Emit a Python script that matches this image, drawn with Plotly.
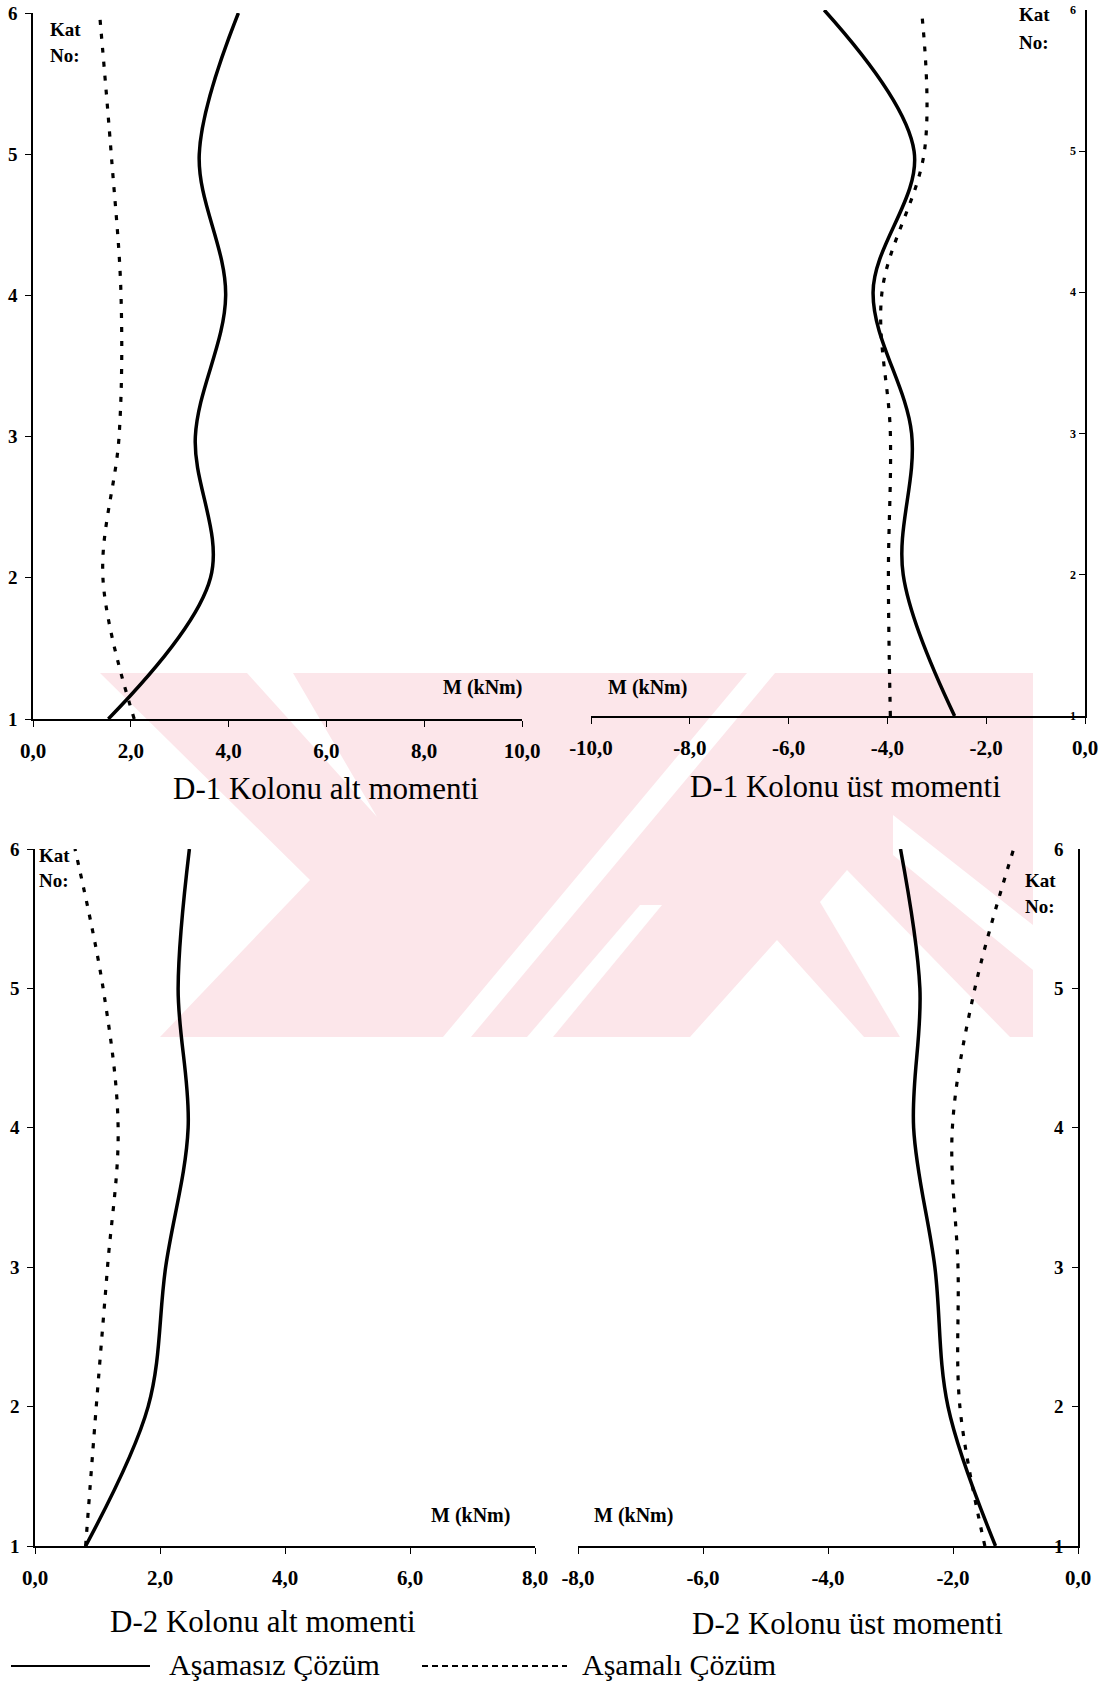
import plotly.graph_objects as go

# ---------------- data ----------------
kat = [1, 2, 3, 4, 5, 6]
kat_text = ["1", "2", "3", "4", "5", "6"]
x_ticks_10 = [0, 2, 4, 6, 8, 10]
x_text_10 = ["0,0", "2,0", "4,0", "6,0", "8,0", "10,0"]
x_ticks_neg10 = [-10, -8, -6, -4, -2, 0]
x_text_neg10 = ["-10,0", "-8,0", "-6,0", "-4,0", "-2,0", "0,0"]
x_ticks_8 = [0, 2, 4, 6, 8]
x_text_8 = ["0,0", "2,0", "4,0", "6,0", "8,0"]
x_ticks_neg8 = [-8, -6, -4, -2, 0]
x_text_neg8 = ["-8,0", "-6,0", "-4,0", "-2,0", "0,0"]

d1_alt_asamasiz = [1.54, 3.63, 3.32, 3.94, 3.40, 4.20]
d1_alt_asamali = [2.07, 1.43, 1.76, 1.80, 1.60, 1.36]
d1_ust_asamasiz = [-2.64, -3.68, -3.51, -4.29, -3.46, -5.28]
d1_ust_asamali = [-3.94, -3.98, -3.94, -4.11, -3.25, -3.31]
d2_alt_asamasiz = [0.81, 1.81, 2.09, 2.45, 2.29, 2.47]
d2_alt_asamali = [0.81, 0.98, 1.16, 1.33, 1.09, 0.64]
d2_ust_asamasiz = [-1.32, -2.08, -2.29, -2.63, -2.53, -2.84]
d2_ust_asamali = [-1.49, -1.89, -1.92, -2.01, -1.65, -1.03]

titles = ["D-1 Kolonu alt momenti", "D-1 Kolonu üst momenti",
          "D-2 Kolonu alt momenti", "D-2 Kolonu üst momenti"]
axis_label = "M (kNm)"
kat_label = ["Kat", "No:"]
legend_names = ["Aşamasız Çözüm", "Aşamalı Çözüm"]

# ---------------- layout helpers ----------------
W, H = 1102, 1685
SERIF = "Liberation Serif, Times New Roman, serif"


def px(x):
    return x / W


def py(y):
    return 1 - y / H


def dom_x(a, b):
    return [a / W, b / W]


def dom_y(top, bottom):
    return [1 - bottom / H, 1 - top / H]


fig = go.Figure()

SOLID = dict(color="black", width=3.5, shape="spline", smoothing=1.0)
DOT = dict(color="black", width=3.2, dash="5px,9px", shape="spline", smoothing=1.0)

panels = [
    (d1_alt_asamasiz, d1_alt_asamali, "x", "y"),
    (d1_ust_asamasiz, d1_ust_asamali, "x2", "y2"),
    (d2_alt_asamasiz, d2_alt_asamali, "x3", "y3"),
    (d2_ust_asamasiz, d2_ust_asamali, "x4", "y4"),
]
for s, d, xa, ya in panels:
    fig.add_trace(go.Scatter(x=s, y=kat, mode="lines", line=SOLID, xaxis=xa, yaxis=ya,
                             name=legend_names[0], showlegend=False, cliponaxis=False,
                             hoverinfo="skip"))
    fig.add_trace(go.Scatter(x=d, y=kat, mode="lines", line=DOT, xaxis=xa, yaxis=ya,
                             name=legend_names[1], showlegend=False, cliponaxis=False,
                             hoverinfo="skip"))

tickfont_x = dict(family=SERIF, size=21, color="black", weight="bold")


def xaxis(domain, rng, vals, text, anchor):
    return dict(domain=domain, range=rng, tickvals=vals, ticktext=text,
                showline=True, linecolor="black", linewidth=1.5, mirror=False,
                ticks="outside", ticklen=6, tickcolor="black", tickwidth=1.2,
                showgrid=False, zeroline=False, tickfont=tickfont_x,
                ticklabelstandoff=6, anchor=anchor, fixedrange=True,
                automargin=False, ticklabeloverflow="allow")


def yaxis(domain, anchor, side, show_labels=True):
    return dict(domain=domain, range=[1, 6], tickvals=kat, ticktext=kat_text,
                showline=True, linecolor="black", linewidth=1.5,
                ticks="outside" if side == "left" else "inside",
                ticklen=6, tickcolor="black", tickwidth=1.2,
                showgrid=False, zeroline=False, showticklabels=show_labels,
                tickfont=dict(family=SERIF, size=19, color="black", weight="bold"),
                ticklabelstandoff=4, anchor=anchor, side=side, fixedrange=True,
                automargin=False)


fig.update_layout(
    template="none",
    width=W, height=H,
    margin=dict(l=0, r=0, t=0, b=0, pad=0),
    paper_bgcolor="white", plot_bgcolor="rgba(0,0,0,0)",
    showlegend=False,
    xaxis=xaxis(dom_x(33, 522), [0, 10], x_ticks_10, x_text_10, "y"),
    yaxis=yaxis(dom_y(13, 719), "x", "left"),
    xaxis2=xaxis(dom_x(591, 1085), [-10, 0], x_ticks_neg10, x_text_neg10, "y2"),
    yaxis2=yaxis(dom_y(10, 716), "x2", "right", show_labels=False),
    xaxis3=xaxis(dom_x(35, 535), [0, 8], x_ticks_8, x_text_8, "y3"),
    yaxis3=yaxis(dom_y(849, 1546), "x3", "left"),
    xaxis4=xaxis(dom_x(578, 1078), [-8, 0], x_ticks_neg8, x_text_neg8, "y4"),
    yaxis4=yaxis(dom_y(849, 1546), "x4", "right", show_labels=False),
)

annotations = []


def ann(text, x, y, size, bold=False, xanchor="center", xref="paper", yref="paper"):
    annotations.append(dict(
        text=f"<b>{text}</b>" if bold else text,
        x=px(x) if xref == "paper" else x,
        y=py(y) if yref == "paper" else y,
        xref=xref, yref=yref,
        xanchor=xanchor, yanchor="middle", showarrow=False,
        font=dict(family=SERIF, size=size, color="black")))


# inside tick labels of the right-hand (üst momenti) axes
for v, t in zip(kat, kat_text):
    ann(t, 1078, v, 12, bold=True, xanchor="right", yref="y2")
    ann(t, 1066, v, 19, bold=True, xanchor="right", yref="y4")

# panel titles
ann(titles[0], 326, 788, 31)
ann(titles[1], 845, 786, 31)
ann(titles[2], 263, 1621, 31)
ann(titles[3], 847, 1623, 31)

# axis labels
ann(axis_label, 482, 687, 20, bold=True)
ann(axis_label, 647, 687, 20, bold=True)
ann(axis_label, 470, 1515, 20, bold=True)
ann(axis_label, 633, 1515, 20, bold=True)

# Kat No labels
ann(kat_label[0], 48, 30, 19, bold=True, xanchor="left")
ann(kat_label[1], 48, 56, 19, bold=True, xanchor="left")
ann(kat_label[0], 1034, 14, 19, bold=True)
ann(kat_label[1], 1034, 42, 19, bold=True)
ann(kat_label[0], 37, 855, 19, bold=True, xanchor="left")
ann(kat_label[1], 37, 880, 19, bold=True, xanchor="left")
ann(kat_label[0], 1040, 880, 19, bold=True)
ann(kat_label[1], 1040, 906, 19, bold=True)

# legend texts
ann(legend_names[0], 167, 1664, 30, xanchor="left")
ann(legend_names[1], 580, 1664, 30, xanchor="left")

fig.update_layout(annotations=annotations)

# ---------------- background watermark (pale pink stripes) ----------------
PINK = "#fce6ea"


def poly(points, color):
    path = "M " + " L ".join(f"{px(x):.5f},{py(y):.5f}" for x, y in points) + " Z"
    return dict(type="path", path=path, xref="paper", yref="paper",
                fillcolor=color, line=dict(width=0), layer="below")


shapes = [
    poly([(100, 673), (1033, 673), (1033, 1037), (100, 1037)], PINK),
    # white cut-outs
    poly([(100, 673), (310, 880), (160, 1037), (100, 1037)], "white"),
    poly([(247, 673), (293, 673), (377, 817)], "white"),
    poly([(747, 673), (775, 673), (471, 1037), (443, 1037)], "white"),
    poly([(640, 905), (662, 905), (553, 1037), (527, 1037)], "white"),
    poly([(777, 940), (864, 1037), (690, 1037)], "white"),
    poly([(847, 870), (1010, 1037), (900, 1037), (820, 902)], "white"),
    poly([(893, 815), (1033, 925), (1033, 970), (893, 855)], "white"),
]

shapes += [
    dict(type="line", xref="paper", yref="paper", x0=px(11), x1=px(150), y0=py(1666), y1=py(1666),
         line=dict(color="black", width=2)),
    dict(type="line", xref="paper", yref="paper", x0=px(422), x1=px(567), y0=py(1666), y1=py(1666),
         line=dict(color="black", width=2, dash="6px,4px")),
]
fig.update_layout(shapes=shapes)

fig.write_html("out.html", include_plotlyjs=True, config={"displayModeBar": False},
               post_script="document.body.style.margin='0';document.body.style.overflow='hidden';")
